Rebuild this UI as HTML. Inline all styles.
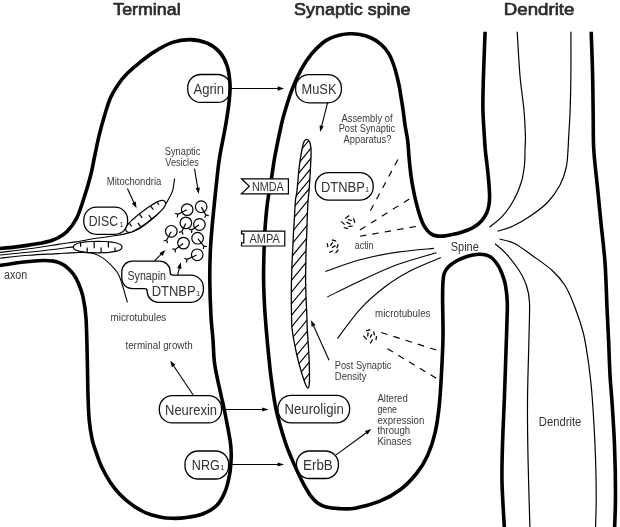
<!DOCTYPE html>
<html lang="en">
<head>
<meta charset="utf-8">
<title>Synapse diagram</title>
<style>
html,body{margin:0;padding:0;background:#fff;}
body{width:620px;height:527px;overflow:hidden;}
svg{display:block;will-change:transform;}
text{font-family:"Liberation Sans",sans-serif;}
.k{fill:none;stroke:#000;stroke-linecap:butt;stroke-linejoin:round;}
.n{fill:none;stroke:#000;stroke-linecap:butt;}
.b{fill:#fff;stroke:#000;}
.h{fill:#000;stroke:none;}
.t{fill:#3a3a3a;}
.bx{fill:#333;}
.hd{fill:#2b2b2b;stroke:#2b2b2b;stroke-width:0.7px;stroke-linejoin:round;}
</style>
</head>
<body>
<svg width="620" height="527" viewBox="0 0 620 527">
<rect width="620" height="527" fill="#fff"/>
<text class="hd" x="113.3" y="14.8" font-size="17" textLength="67.3" lengthAdjust="spacingAndGlyphs">Terminal</text>
<text class="hd" x="294.1" y="14.8" font-size="17" textLength="116.4" lengthAdjust="spacingAndGlyphs">Synaptic spine</text>
<text class="hd" x="503.8" y="14.8" font-size="17" textLength="70.6" lengthAdjust="spacingAndGlyphs">Dendrite</text>
<rect class="b" x="187.7" y="74.5" width="43" height="27.9" rx="13" ry="13" stroke-width="1.3"/>
<rect class="b" x="295.6" y="74.6" width="45.8" height="28.2" rx="13.3" ry="13.3" stroke-width="1.3"/>
<rect class="b" x="83.8" y="207.2" width="43.8" height="27.1" rx="12.5" ry="12.5" stroke-width="1.3"/>
<rect class="b" x="315.3" y="172.6" width="57.9" height="27.6" rx="13.3" ry="13.3" stroke-width="1.3"/>
<rect class="b" x="159.3" y="395.7" width="62.3" height="27.2" rx="13" ry="13" stroke-width="1.3"/>
<rect class="b" x="185" y="451" width="43.6" height="28" rx="13" ry="13" stroke-width="1.3"/>
<rect class="b" x="278" y="395.3" width="71.6" height="27.5" rx="13" ry="13" stroke-width="1.3"/>
<rect class="b" x="296.5" y="451" width="41.9" height="27.5" rx="13" ry="13" stroke-width="1.3"/>
<path class="b" stroke-width="1.3" d="M132.3 261.1H159.7A10.5 10.5 0 0 1 170.2 271.6V272.6A2.6 2.6 0 0 0 172.8 275.2H190.9A12.5 12.5 0 0 1 203.4 287.7V289.8A12.5 12.5 0 0 1 190.9 302.3H158.2A11 11 0 0 1 147.2 291.3A2.6 2.6 0 0 0 144.6 288.7H132.3A10.5 10.5 0 0 1 121.8 278.2V271.6A10.5 10.5 0 0 1 132.3 261.1Z"/>
<path class="k" stroke-width="3.6" d="M-3 248.8C-0.1 248.5 9.2 247.7 14.5 247.1C19.8 246.5 24.7 245.8 29 245.1C33.3 244.4 36.8 243.9 40.3 243.2C43.8 242.5 47.1 241.9 50 241C52.9 240.1 54.8 239.6 57.6 238C60.5 236.4 63.9 234.8 67.1 231.5C70.3 228.2 73.8 224 76.6 218.3C79.4 212.6 81.8 204.7 84.2 197.4C86.6 190.1 89.2 180.9 90.8 174.7C92.4 168.5 92.5 166.5 93.9 160C95.3 153.5 97.2 143.4 99 135.9C100.8 128.4 102.8 121.3 104.7 115C106.6 108.7 108.2 103 110.4 98C112.6 93 115.2 88.8 118 84.7C120.8 80.6 123.7 77 127.4 73.3C131.1 69.6 135.5 65.9 140 62.3C144.5 58.7 149.2 54.9 154.6 51.6C160 48.3 166.6 44.4 172.5 42.4C178.4 40.4 184.2 39.5 190 39.6C195.8 39.7 202.3 41.1 207.2 43.2C212.1 45.3 216.2 48.3 219.5 52C222.8 55.7 225.3 60.4 227 65.5C228.7 70.6 229.5 76.8 229.9 82.5C230.3 88.2 230 92.9 229.3 100C228.6 107.1 227.3 115.5 225.7 125C224.1 134.5 221.2 147.6 219.7 156.8C218.2 165.9 217.7 172 216.8 180C215.9 188 215 196.7 214.2 205C213.4 213.3 212.5 221.7 211.8 230C211.1 238.3 210.5 246.7 210.2 255C209.9 263.3 209.7 270 209.8 280C209.9 290 210.4 305 210.9 315C211.4 325 212.4 331.7 213 340C213.6 348.3 213.4 355.8 214.8 365C216.1 374.2 219.6 388.3 221 395C222.4 401.7 222 398.8 223.3 405C224.6 411.2 227.5 425.8 228.7 432.5C229.9 439.2 230.3 440.8 230.7 445C231.1 449.2 231.4 452.5 231.2 457.5C231 462.5 230.6 469.2 229.5 475C228.4 480.8 226.9 487.4 224.7 492.5C222.5 497.6 220 502.3 216.4 505.8C212.8 509.3 208.2 511.8 203.2 513.7C198.2 515.7 191.7 516.7 186.5 517.5C181.3 518.3 176.4 518.4 172 518.3C167.6 518.2 164.3 517.9 160 517C155.7 516.1 150.5 514.8 145.9 512.8C141.3 510.8 137 508.4 132.7 505.3C128.3 502.2 123.5 498.1 119.8 494.2C116 490.3 113.1 486.6 110.2 482.2C107.3 477.8 104.5 472.8 102.2 468C99.9 463.2 98.1 457.9 96.4 453.2C94.8 448.5 93.5 445.5 92.3 440C91.1 434.5 89.9 427.5 89.2 420C88.5 412.5 88.3 404.2 88 395C87.7 385.8 87.7 377.8 87.4 365C87.1 352.2 86.8 329.5 86 318C85.2 306.5 84 301.8 82.8 296C81.5 290.2 80 287.1 78.5 283.5C77 279.9 75.3 276.9 73.5 274.3C71.7 271.7 69.7 269.7 67.5 267.8C65.3 265.9 62.9 264.4 60.3 263.2C57.7 262 54.8 261.3 52 260.9C49.2 260.4 47.3 260.4 43.5 260.5C39.7 260.6 33.8 261.1 29 261.5C24.2 261.9 19.8 262.5 14.5 263.2C9.2 263.9 -0.1 265.4 -3 265.8"/>
<path class="k" stroke-width="3.6" d="M485.1 31.8C484.8 39 483.9 62.1 483.5 74.8C483.1 87.5 482.8 97.6 482.9 107.7C483 117.8 483.9 128.1 484.3 135.2C484.7 142.2 484.9 145.4 485.3 150C485.7 154.6 486.2 157.8 486.8 162.8C487.4 167.8 488.1 174.3 488.6 180C489.1 185.7 489.6 192.7 489.6 197C489.6 201.3 489.3 203.3 488.8 206C488.3 208.7 487.5 210.9 486.6 213C485.7 215.1 484.5 216.9 483.3 218.6C482.1 220.3 480.9 221.7 479.3 223.1C477.8 224.5 475.9 225.8 474 226.9C472.1 228.1 470.2 229 467.9 230C465.6 231 462.6 232 460 232.8C457.4 233.6 454.5 234.1 452 234.6C449.5 235.1 447.3 235.7 445 235.9C442.7 236.2 440.2 236.2 438.3 236.1C436.4 235.9 434.9 235.7 433.3 235C431.8 234.3 430.3 233.4 429 232.2C427.7 231 426.4 229.5 425.3 227.8C424.2 226.1 423.2 224.4 422.2 222C421.2 219.6 420.1 216.5 419.2 213.5C418.2 210.5 417.5 207.7 416.5 203.8C415.5 199.9 414.3 194.9 413.4 190C412.4 185.1 411.5 179.7 410.8 174.2C410.1 168.7 409.5 162.7 409 157C408.5 151.3 408.3 145.3 407.6 140C406.9 134.7 405.7 129.8 405 125C404.3 120.2 403.8 115.2 403.2 111C402.6 106.8 402.1 103.5 401.5 100C400.9 96.5 400.5 93.3 399.9 89.8C399.3 86.3 398.7 83.2 397.7 79.2C396.7 75.2 395.4 69.8 393.9 65.5C392.4 61.2 390.8 56.9 388.6 53.4C386.5 49.9 384.1 46.9 381 44.3C377.9 41.6 373.9 39.1 370.3 37.5C366.8 35.9 363.2 35 359.7 34.4C356.2 33.8 352.8 33.7 349.5 33.8C346.2 33.9 343.1 34.3 340 35C336.9 35.7 333.8 36.6 331 37.9C328.2 39.1 326.4 39.8 323.1 42.5C319.8 45.2 314.9 49.9 311.2 54.4C307.5 58.9 304.1 64.1 301 69.8C297.9 75.5 295 81.9 292.4 88.6C289.8 95.3 287.1 103.9 285.3 110C283.5 116.1 283.1 117.2 281.3 125C279.6 132.8 276.4 148 274.8 156.8C273.2 165.5 272.9 169.4 271.6 177.4C270.3 185.4 268.3 195.7 267.2 204.8C266.1 214 265.4 223.2 264.8 232.3C264.2 241.5 264 251.8 263.8 259.7C263.6 267.6 263.5 272.4 263.6 280C263.7 287.6 264.1 296.7 264.5 305C264.9 313.3 265.6 321.7 266.3 330C267 338.3 267.8 346.7 268.6 355C269.5 363.3 270.1 370.8 271.4 380C272.7 389.2 273.9 399.7 276.2 410C278.5 420.3 282.6 434 285.2 442C287.8 450 289.4 453 291.5 458.2C293.6 463.4 295.9 468.3 298.1 473C300.3 477.7 302.5 482.2 304.7 486.2C306.9 490.1 309.1 493.8 311.3 496.7C313.5 499.6 315.4 501.6 317.9 503.3C320.4 505 322.5 506.1 326.1 507C329.7 507.9 334.5 508.4 339.3 508.6C344.1 508.8 348.2 509.4 355 508.2C361.8 507 372.4 504.3 380 501.2C387.6 498.1 394.4 494.1 400.5 489.5C406.6 484.9 411.9 479.2 416.5 473.5C421.1 467.8 424.7 462 427.8 455C430.9 448 433.4 440.1 435.3 431.8C437.2 423.4 438.3 414.5 439.3 405C440.3 395.5 440.8 386.2 441.4 375C442 363.8 442.8 350 443 337.5C443.2 325 442.6 309.1 442.6 300C442.6 290.9 442.6 287.4 442.9 283C443.2 278.6 443.3 276.2 444.2 273.5C445.1 270.8 446.5 268.9 448.5 266.8C450.5 264.8 453.2 262.8 456 261.2C458.8 259.6 462.7 258 465.5 257C468.3 256 470.7 255.5 473 255C475.3 254.5 477.3 254.2 479.5 254.2C481.7 254.2 484 254.4 486 255C488 255.6 489.8 256.4 491.5 257.6C493.2 258.9 494.6 260.6 496 262.5C497.4 264.4 498.8 266.6 500 269C501.2 271.4 502.3 274.2 503.2 277C504.1 279.8 504.9 281.8 505.6 286C506.3 290.2 507.1 296.8 507.3 302.5C507.5 308.2 507.2 312.9 507 320C506.8 327.1 506.7 332.5 506.2 345C505.8 357.5 505.1 378.3 504.5 395C503.9 411.7 502.9 430.5 502.5 445C502.1 459.5 501.7 467.8 502 482C502.3 496.2 504.1 522 504.5 530"/>
<path class="k" stroke-width="3.6" d="M591.2 31.8C591.4 39 592.3 60.8 592.6 74.8C592.9 88.8 593 103.5 593.2 116C593.4 128.5 593 138.1 593.8 150C594.5 161.9 596.2 175 597.5 187.5C598.8 200 600 212.5 601.2 225C602.5 237.5 604 248.8 605 262.5C606 276.2 606.4 293.8 607 307.5C607.6 321.2 608.2 333.8 608.8 345C609.2 356.2 609.5 365.5 610 375C610.5 384.5 611.2 390.1 612 401.8C612.8 413.4 613.9 429.5 614.5 445C615.1 460.5 615.5 480.8 615.5 495C615.5 509.2 614.7 524.2 614.5 530"/>
<path class="b" stroke-width="1.2" d="M241.5 178.8H288.4V193.8H241.5L249.3 186.3Z"/>
<path class="b" stroke-width="1.2" d="M241.5 231.2H284.8V246H241.5V242.8H243.8V233.9H241.5Z"/>
<path class="n" stroke-width="1.2"  d="M517.2 31.8C517.7 39 518.8 61.7 519.9 74.8C521 87.9 523.1 100.4 524 110.5C524.9 120.6 525.2 128.6 525.4 135.2C525.6 141.8 525.1 145 525 150C524.9 155 525.1 159.6 524.5 165C523.9 170.4 523 176.7 521.2 182.5C519.5 188.3 516.9 194.4 513.8 200C510.6 205.6 506.5 211.8 502.5 216.2C498.5 220.8 491.7 225.2 489.5 227"/>
<path class="n" stroke-width="1.2"  d="M570.9 31.8C570.9 39 571 61.7 570.9 74.8C570.8 87.9 570.5 100.5 570.1 110.5C569.8 120.5 569.1 128.4 568.8 135C568.4 141.6 568.4 144.6 568 150C567.6 155.4 567.6 161.7 566.2 167.5C564.9 173.3 563.1 179.2 560 185C556.9 190.8 552.5 197.3 547.5 202.5C542.5 207.7 535.8 212.3 530 216.2C524.2 220.2 517.9 223.8 512.5 226.2C507.1 228.8 500 230.4 497.5 231.2"/>
<path class="n" stroke-width="1.2"  d="M499.5 239C502.1 239.8 509.5 240.9 515 243.7C520.5 246.5 526.2 251.2 532.5 255.7C538.8 260.2 547.1 265.7 552.5 270.7C557.9 275.7 561.2 279.4 565 285.5C568.8 291.6 571.9 299.2 575 307.5C578.1 315.8 581.5 325.4 583.8 335C586 344.6 587.4 355 588.8 365C590.1 375 591 381.7 592 395C593 408.3 594.3 428.3 595 445C595.7 461.7 596.2 480.8 596.2 495C596.3 509.2 595.6 524.2 595.5 530"/>
<path class="n" stroke-width="1.2"  d="M495 243.8C496.9 245.4 502.3 249.4 506.2 253.8C510.2 258.1 515.4 264.8 518.8 270C522.1 275.2 524.5 279.6 526.2 285C528 290.4 529.1 292.5 529.5 302.5C529.9 312.5 529.1 328.5 528.8 345C528.4 361.5 527.6 383 527.5 401.8C527.4 420.5 527.6 436.1 528 457.5C528.4 478.9 529.7 517.9 530 530"/>
<path class="n" stroke-width="1.1"  d="M325.5 271.5C331.2 269.5 348 262.9 360 259.7C372 256.5 385.2 254 397.5 252.1C409.8 250.2 427.9 249 434 248.4"/>
<path class="n" stroke-width="1.1"  d="M327.3 297C332.8 294.3 348.3 286.4 360 281C371.7 275.6 384.8 269.3 397.5 264.6C410.2 259.9 430 254.7 436.5 252.7"/>
<path class="n" stroke-width="1.1"  d="M337.5 338.5C341.2 333.6 352.1 317.9 360 309.3C367.9 300.7 376.7 293.2 385 286.8C393.3 280.4 400.7 275.9 410 271C419.3 266.1 435.8 259.8 441 257.6"/>
<path class="n" stroke-width="1.15" stroke-dasharray="6.5 6.4" d="M397.9 159.5L370.4 210.7"/>
<path class="n" stroke-width="1.15" stroke-dasharray="6.5 6.45" d="M409.3 199L359.9 230"/>
<path class="n" stroke-width="1.15" stroke-dasharray="6.5 6.09" d="M415.9 226.5L359.9 236.3"/>
<path class="n" stroke-width="1.15" stroke-dasharray="6.5 6.3" d="M381.25 332.5L436.25 350"/>
<path class="n" stroke-width="1.15" stroke-dasharray="6.5 6.1" d="M387.5 348.75L436.25 378.25"/>
<path class="n" stroke-width="1.25" d="M345.3 218.4L349.2 215.6M347.9 219.6L351.9 220.5M353.5 218.4L354.8 222.8M341.2 221.4L344.7 224.6M346.6 222.1L350.6 224.3M348.4 226.6L352.8 226M343.7 227.5L347.9 228.7"/>
<path class="n" stroke-width="1.25" d="M331.9 239.9L336.2 241.1M327.1 243.2L328 247.2M330.5 245.7L332.8 242.3M331.9 247.7L335.5 245.6M336.8 248.2L338.2 244.3M329.2 252.5L333 250.7M335.5 253.2L338.4 249.6"/>
<path class="n" stroke-width="1.25" d="M366.1 330.8L370.4 329.6M368.2 332.4L367.6 336.5M373.6 331.3L374.5 335.4M371.7 334.2L370.2 337.7M363.4 335.6L366.7 339.3M376.6 336.1L375.9 340.2M372.7 339.5L370.2 343.4"/>
<clipPath id="pc"><path d="M306.6 139.3C307.3 139.3 308.4 140 309 140.8C309.6 141.6 309.9 142.1 310.3 144C310.7 145.9 311.1 148.8 311.1 152.3C311.2 155.8 310.8 160.2 310.6 164.8C310.4 169.4 310.1 175.2 309.8 179.8C309.5 184.4 309.2 188.9 308.9 192.3C308.6 195.7 308.4 196 308.1 200C307.8 204 307.5 210.9 307.3 216.3C307.1 221.7 307 226.9 306.8 232.5C306.6 238.1 306.2 244.4 306 250C305.8 255.6 305.9 260.9 305.8 266C305.7 271.1 305.6 275.2 305.6 280.3C305.6 285.4 305.8 290.9 306 296.5C306.2 302.1 306.6 308.4 306.8 314C307 319.6 307.1 325.6 307.3 330C307.5 334.4 307.8 336.7 308 340.5C308.2 344.3 308.6 348.8 308.8 353C309 357.2 309.2 361.3 309.3 365.5C309.4 369.7 309.5 374.7 309.5 378C309.5 381.3 309.4 383.8 309.1 385.5C308.9 387.2 308.5 388.1 308 388.2C307.5 388.3 307.1 388 306.3 386.3C305.5 384.6 304.4 381.5 303.3 378C302.2 374.5 300.6 369.7 299.5 365.5C298.4 361.3 297.3 357.2 296.4 353C295.5 348.8 294.6 344.7 293.9 340.5C293.2 336.3 292.4 332.4 292 328C291.6 323.6 291.6 319.2 291.5 314C291.4 308.8 291.3 302.1 291.3 296.5C291.3 290.9 291.4 285.7 291.5 280.3C291.6 274.9 291.8 269.1 292 264C292.2 258.9 292.4 255.2 292.7 250C292.9 244.8 293.2 238.1 293.5 232.5C293.8 226.9 294.2 221.7 294.5 216.3C294.8 210.9 295.1 204 295.5 200C295.9 196 296.4 195.7 296.8 192.3C297.2 188.9 297.6 184.4 298 179.8C298.4 175.2 298.9 169.4 299.5 164.8C300.1 160.2 300.8 155.8 301.4 152.3C302 148.8 302.7 145.8 303.2 143.8C303.7 141.9 304 141.3 304.6 140.6C305.2 139.8 305.9 139.3 306.6 139.3Z"/></clipPath>
<path class="n" stroke-width="1.15" clip-path="url(#pc)" d="M300.7 150.3L324.7 121.1M299 162.8L323 133.6M297.5 174.7L321.5 145.4M296.2 186.5L320.2 157.3M295.2 197.2L319.2 167.9M293.3 208L317.3 178.8M292.5 219.3L316.5 190.1M291.7 232.4L315.7 203.2M291 245L315 215.8M290.5 258.1L314.5 228.9M290 270.2L314 240.9M289.5 282.7L313.5 253.5M289.3 294.6L313.3 265.4M289.4 306.4L313.4 277.2M289.5 317.7L313.5 288.5M289.8 329L313.8 299.8M291.3 339.2L315.3 310M293 348.5L317 319.3M295 357.3L319 328.1M297 366.1L321 336.9M299.4 374.2L323.4 345M302.2 382.3L326.2 353.1"/>
<path class="n" stroke-width="1.3" d="M306.6 139.3C307.3 139.3 308.4 140 309 140.8C309.6 141.6 309.9 142.1 310.3 144C310.7 145.9 311.1 148.8 311.1 152.3C311.2 155.8 310.8 160.2 310.6 164.8C310.4 169.4 310.1 175.2 309.8 179.8C309.5 184.4 309.2 188.9 308.9 192.3C308.6 195.7 308.4 196 308.1 200C307.8 204 307.5 210.9 307.3 216.3C307.1 221.7 307 226.9 306.8 232.5C306.6 238.1 306.2 244.4 306 250C305.8 255.6 305.9 260.9 305.8 266C305.7 271.1 305.6 275.2 305.6 280.3C305.6 285.4 305.8 290.9 306 296.5C306.2 302.1 306.6 308.4 306.8 314C307 319.6 307.1 325.6 307.3 330C307.5 334.4 307.8 336.7 308 340.5C308.2 344.3 308.6 348.8 308.8 353C309 357.2 309.2 361.3 309.3 365.5C309.4 369.7 309.5 374.7 309.5 378C309.5 381.3 309.4 383.8 309.1 385.5C308.9 387.2 308.5 388.1 308 388.2C307.5 388.3 307.1 388 306.3 386.3C305.5 384.6 304.4 381.5 303.3 378C302.2 374.5 300.6 369.7 299.5 365.5C298.4 361.3 297.3 357.2 296.4 353C295.5 348.8 294.6 344.7 293.9 340.5C293.2 336.3 292.4 332.4 292 328C291.6 323.6 291.6 319.2 291.5 314C291.4 308.8 291.3 302.1 291.3 296.5C291.3 290.9 291.4 285.7 291.5 280.3C291.6 274.9 291.8 269.1 292 264C292.2 258.9 292.4 255.2 292.7 250C292.9 244.8 293.2 238.1 293.5 232.5C293.8 226.9 294.2 221.7 294.5 216.3C294.8 210.9 295.1 204 295.5 200C295.9 196 296.4 195.7 296.8 192.3C297.2 188.9 297.6 184.4 298 179.8C298.4 175.2 298.9 169.4 299.5 164.8C300.1 160.2 300.8 155.8 301.4 152.3C302 148.8 302.7 145.8 303.2 143.8C303.7 141.9 304 141.3 304.6 140.6C305.2 139.8 305.9 139.3 306.6 139.3Z"/>
<path class="n" stroke-width="1.1"  d="M-3 252.8C2.3 252.1 18.8 250.2 29 248.8C39.2 247.4 50.2 245.6 58 244.4C65.8 243.2 69.3 242.9 75.7 241.9C82.1 240.9 89.2 239.4 96.3 238.3C103.3 237.2 112.4 236.2 118 235.3C123.6 234.4 126.1 233.7 129.7 232.6C133.3 231.5 136.2 230.5 139.4 228.7C142.6 226.9 145.8 224.5 149 221.9C152.2 219.3 155.9 216.1 158.7 213.2C161.4 210.3 163.6 207.4 165.5 204.5C167.4 201.6 169.1 198.2 170.3 195.8C171.5 193.4 172.1 192.9 172.8 190C173.5 187.1 174.3 180.4 174.6 178.5"/>
<path class="n" stroke-width="1.1"  d="M-3 255.3C4.8 254.5 30.8 252.1 43.5 250.7C56.2 249.3 68.3 247.5 73.3 246.9"/>
<path class="n" stroke-width="1.1"  d="M-3 258.5C2.3 258 18.8 256.1 29 255.3C39.2 254.5 50.2 254.1 58 253.6C65.8 253.1 70.1 252.7 75.7 252.6C81.3 252.5 87 252.2 91.4 253C95.8 253.8 99.1 255.6 102.3 257.6C105.5 259.6 108.2 262.2 110.8 264.9C113.4 267.6 116.1 270.2 118 273.6C119.9 277 121.2 281.4 122.4 285C123.6 288.6 124.5 292.3 125.3 295.2C126.1 298.1 127.1 301.2 127.4 302.4"/>
<g transform="translate(97.7 247.1)"><path class="b" stroke-width="1.2" d="M24.3 0C24.3 0.5 24.1 1.1 23.8 1.5C23.4 2 22.9 2.4 22.2 2.8C21.5 3.1 20.6 3.5 19.6 3.8C18.6 4.1 17.4 4.4 16.1 4.6C14.8 4.8 13.3 5 11.8 5.2C10.2 5.4 8.5 5.5 6.6 5.6C4.6 5.7 2.2 5.7 0 5.7C-2.2 5.7 -4.6 5.7 -6.6 5.6C-8.5 5.5 -10.2 5.4 -11.8 5.2C-13.3 5 -14.8 4.8 -16.1 4.6C-17.4 4.4 -18.6 4.1 -19.6 3.8C-20.6 3.5 -21.5 3.1 -22.2 2.8C-22.9 2.4 -23.4 2 -23.8 1.5C-24.1 1.1 -24.3 0.5 -24.3 0C-24.3 -0.5 -24.1 -1.1 -23.8 -1.5C-23.4 -2 -22.9 -2.4 -22.2 -2.8C-21.5 -3.1 -20.6 -3.5 -19.6 -3.8C-18.6 -4.1 -17.4 -4.4 -16.1 -4.6C-14.8 -4.8 -13.3 -5 -11.8 -5.2C-10.2 -5.4 -8.5 -5.5 -6.6 -5.6C-4.6 -5.7 -2.2 -5.7 -0 -5.7C2.2 -5.7 4.6 -5.7 6.6 -5.6C8.5 -5.5 10.2 -5.4 11.8 -5.2C13.3 -5 14.8 -4.8 16.1 -4.6C17.4 -4.4 18.6 -4.1 19.6 -3.8C20.6 -3.5 21.5 -3.1 22.2 -2.8C22.9 -2.4 23.4 -2 23.8 -1.5C24.1 -1.1 24.3 -0.5 24.3 0Z"/><path class="n" stroke-width="1.2" d="M-17.1 -4.4V-0.3M-3.5 -5.7V1.2M10.7 -5.2V0.3M-10.5 0.3V5.2M3.4 0.3V5.7M17.3 0.3V4.2"/></g>
<g transform="translate(145.65 216.35) rotate(-37.3)"><path class="b" stroke-width="1.2" d="M24.3 0C24.3 0.6 24.1 1.3 23.8 1.8C23.5 2.3 23 2.6 22.4 3C21.8 3.4 21 3.7 20.1 4C19.2 4.2 18.1 4.5 16.9 4.7C15.7 4.9 14.3 5.1 12.8 5.3C11.2 5.4 9.8 5.5 7.6 5.6C5.5 5.7 2.5 5.7 0 5.7C-2.5 5.7 -5.5 5.7 -7.6 5.6C-9.8 5.5 -11.2 5.4 -12.8 5.3C-14.3 5.1 -15.7 4.9 -16.9 4.7C-18.1 4.5 -19.2 4.2 -20.1 4C-21 3.7 -21.8 3.4 -22.4 3C-23 2.6 -23.5 2.3 -23.8 1.8C-24.1 1.3 -24.3 0.6 -24.3 0C-24.3 -0.6 -24.1 -1.3 -23.8 -1.8C-23.5 -2.3 -23 -2.6 -22.4 -3C-21.8 -3.4 -21 -3.7 -20.1 -4C-19.2 -4.2 -18.1 -4.5 -16.9 -4.7C-15.7 -4.9 -14.3 -5.1 -12.8 -5.3C-11.2 -5.4 -9.8 -5.5 -7.6 -5.6C-5.5 -5.7 -2.5 -5.7 -0 -5.7C2.5 -5.7 5.5 -5.7 7.6 -5.6C9.8 -5.5 11.2 -5.4 12.8 -5.3C14.3 -5.1 15.7 -4.9 16.9 -4.7C18.1 -4.5 19.2 -4.2 20.1 -4C21 -3.7 21.8 -3.4 22.4 -3C23 -2.6 23.5 -2.3 23.8 -1.8C24.1 -1.3 24.3 -0.6 24.3 0Z"/><path class="n" stroke-width="1.2" d="M-17.2 -4.2V-0.6M-3.6 -5.6V-0.9M10.2 -5.2V-0.7M17.6 -4V-1.2M-10.2 5.2V0.5M3.3 5.6V0.9"/></g>
<circle class="b" stroke-width="1.2" cx="187.2" cy="209.6" r="5.8"/>
<path class="n" stroke-width="1.2" d="M186.8 209.8L177.9 214.3L175 213.2M177.9 214.3L177.1 217.3"/>
<circle class="b" stroke-width="1.2" cx="201.2" cy="206.7" r="5.8"/>
<path class="n" stroke-width="1.2" d="M201.4 207.1L205.8 214.9L204.8 217.8M205.8 214.9L208.8 215.6"/>
<circle class="b" stroke-width="1.2" cx="185.9" cy="222.9" r="5.8"/>
<path class="n" stroke-width="1.2" d="M185.7 223.4L181.9 231.5L178.9 232.4M181.9 231.5L183.1 234.4"/>
<circle class="b" stroke-width="1.2" cx="199.4" cy="224.5" r="5.8"/>
<path class="n" stroke-width="1.2" d="M199 224.8L191.9 229.8L188.9 229.1M191.9 229.8L191.5 232.9"/>
<circle class="b" stroke-width="1.2" cx="171.3" cy="231.3" r="5.8"/>
<path class="n" stroke-width="1.2" d="M171.1 231.7L166.6 240.2L163.6 241M166.6 240.2L167.7 243.1"/>
<circle class="b" stroke-width="1.2" cx="197.6" cy="238.2" r="5.8"/>
<path class="n" stroke-width="1.2" d="M197.9 238.6L203.8 246.1L203.3 249.2M203.8 246.1L206.9 246.3"/>
<circle class="b" stroke-width="1.2" cx="183.5" cy="243.1" r="5.8"/>
<path class="n" stroke-width="1.2" d="M183.1 243.4L175.3 249.4L172.3 248.8M175.3 249.4L175.1 252.5"/>
<circle class="b" stroke-width="1.2" cx="197.2" cy="254.8" r="5.8"/>
<path class="n" stroke-width="1.2" d="M196.7 255L187.2 259.4L184.4 258.2M187.2 259.4L186.3 262.4"/>
<path class="n" stroke-width="1.1" d="M230.7 88.5L278.7 88.5"/>
<path class="h" d="M284 88.5L277.7 90.7L277.7 86.3Z"/>
<path class="n" stroke-width="1.1" d="M327.7 102.3L321.4 126.8"/>
<path class="h" d="M320.1 131.9L319.6 125.3L323.7 126.3Z"/>
<path class="n" stroke-width="1.1" d="M221.8 409.5L263.2 409.5"/>
<path class="h" d="M268.5 409.5L262.2 411.6L262.2 407.4Z"/>
<path class="n" stroke-width="1.1" d="M228.8 464.5L278.7 464.5"/>
<path class="h" d="M284 464.5L277.7 466.6L277.7 462.4Z"/>
<path class="n" stroke-width="1.1" d="M193.7 395.7L173.2 365.2"/>
<path class="h" d="M170.2 360.8L175.5 364.8L171.9 367.2Z"/>
<path class="n" stroke-width="1.1" d="M329.1 360.2L313.2 325"/>
<path class="h" d="M311 320.2L315.6 325.1L311.6 326.8Z"/>
<path class="n" stroke-width="1.1" d="M336.1 454.9L367 432.2"/>
<path class="h" d="M371.3 429.1L367.5 434.6L364.9 431.1Z"/>
<path class="n" stroke-width="1.1" d="M127.4 188.6L134.3 203.4"/>
<path class="h" d="M136.5 208.2L131.9 203.4L135.8 201.6Z"/>
<path class="n" stroke-width="1.1" d="M194.5 168.6L197.8 188.8"/>
<path class="h" d="M198.7 194L195.6 188.1L199.8 187.4Z"/>
<path class="n" stroke-width="1.1" d="M154.5 260.9L161.7 253.7"/>
<path class="h" d="M165.5 250L162.5 256L159.5 252.9Z"/>
<path class="n" stroke-width="1.1" d="M177.6 275.2L179.5 267.4"/>
<path class="h" d="M180.8 262.3L181.4 268.9L177.2 267.9Z"/>
<text class="bx" x="193.4" y="93.7" font-size="14.3" textLength="30.6" lengthAdjust="spacingAndGlyphs">Agrin</text>
<text class="bx" x="301.5" y="93.8" font-size="14.3" textLength="35" lengthAdjust="spacingAndGlyphs">MuSK</text>
<text class="bx" x="88.8" y="226.2" font-size="14.3" textLength="29.2" lengthAdjust="spacingAndGlyphs">DISC</text>
<text class="bx" x="119.6" y="226.6" font-size="7.5">1</text>
<text class="bx" x="321" y="191.8" font-size="14.3" textLength="43.8" lengthAdjust="spacingAndGlyphs">DTNBP</text>
<text class="bx" x="365" y="192" font-size="7.5">1</text>
<text class="bx" x="151.7" y="295.6" font-size="14.3" textLength="44" lengthAdjust="spacingAndGlyphs">DTNBP</text>
<text class="bx" x="195.9" y="295.8" font-size="7.5">1</text>
<text class="bx" x="127.5" y="279.9" font-size="12.5" textLength="38.5" lengthAdjust="spacingAndGlyphs">Synapin</text>
<text class="bx" x="165" y="414.5" font-size="14.3" textLength="52" lengthAdjust="spacingAndGlyphs">Neurexin</text>
<text class="bx" x="191.8" y="470" font-size="14.3" textLength="28" lengthAdjust="spacingAndGlyphs">NRG</text>
<text class="bx" x="220.6" y="470.3" font-size="7.5">1</text>
<text class="bx" x="284.5" y="414.2" font-size="14.3" textLength="59.3" lengthAdjust="spacingAndGlyphs">Neuroligin</text>
<text class="bx" x="303" y="469.9" font-size="14.3" textLength="29.8" lengthAdjust="spacingAndGlyphs">ErbB</text>
<text class="bx" x="251.9" y="190.8" font-size="12" textLength="31.9" lengthAdjust="spacingAndGlyphs">NMDA</text>
<text class="bx" x="249.5" y="242.9" font-size="12" textLength="30.4" lengthAdjust="spacingAndGlyphs">AMPA</text>
<text class="t" x="4.1" y="279" font-size="12" textLength="23" lengthAdjust="spacingAndGlyphs">axon</text>
<text class="t" x="106.8" y="185.2" font-size="10" textLength="54.5" lengthAdjust="spacingAndGlyphs">Mitochondria</text>
<text class="t" x="164.8" y="154.7" font-size="10" textLength="35.5" lengthAdjust="spacingAndGlyphs">Synaptic</text>
<text class="t" x="165.3" y="166.3" font-size="10" textLength="33.5" lengthAdjust="spacingAndGlyphs">Vesicles</text>
<text class="t" x="110.6" y="321.2" font-size="10" textLength="55.7" lengthAdjust="spacingAndGlyphs">microtubules</text>
<text class="t" x="125.4" y="348.9" font-size="10" textLength="67.3" lengthAdjust="spacingAndGlyphs">terminal growth</text>
<text class="t" x="341.5" y="121.6" font-size="10" textLength="51" lengthAdjust="spacingAndGlyphs">Assembly of</text>
<text class="t" x="338.7" y="132.3" font-size="10" textLength="56.5" lengthAdjust="spacingAndGlyphs">Post Synaptic</text>
<text class="t" x="343.6" y="142.8" font-size="10" textLength="47.8" lengthAdjust="spacingAndGlyphs">Apparatus?</text>
<text class="t" x="354.7" y="249" font-size="10" textLength="18.9" lengthAdjust="spacingAndGlyphs">actin</text>
<text class="t" x="375" y="316.8" font-size="10" textLength="55.5" lengthAdjust="spacingAndGlyphs">microtubules</text>
<text class="t" x="334.8" y="369.2" font-size="10" textLength="56.6" lengthAdjust="spacingAndGlyphs">Post Synaptic</text>
<text class="t" x="334.8" y="379.6" font-size="10" textLength="31.6" lengthAdjust="spacingAndGlyphs">Density</text>
<text class="t" x="377.4" y="402.2" font-size="10" textLength="30.4" lengthAdjust="spacingAndGlyphs">Altered</text>
<text class="t" x="377.4" y="412.9" font-size="10" textLength="19.6" lengthAdjust="spacingAndGlyphs">gene</text>
<text class="t" x="377.4" y="423.7" font-size="10" textLength="46.9" lengthAdjust="spacingAndGlyphs">expression</text>
<text class="t" x="377.4" y="434.4" font-size="10" textLength="32.8" lengthAdjust="spacingAndGlyphs">through</text>
<text class="t" x="377.4" y="445.1" font-size="10" textLength="34.3" lengthAdjust="spacingAndGlyphs">Kinases</text>
<text class="bx" x="450.8" y="250.9" font-size="13" textLength="28" lengthAdjust="spacingAndGlyphs">Spine</text>
<text class="bx" x="538.8" y="425.6" font-size="12" textLength="42.5" lengthAdjust="spacingAndGlyphs">Dendrite</text>
</svg>
</body>
</html>
